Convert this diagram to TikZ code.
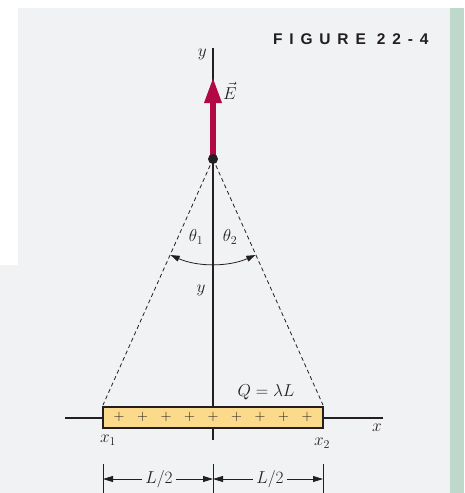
\documentclass[tikz,border=0pt]{standalone}
\usepackage{fontspec}
\usetikzlibrary{arrows.meta}
\newfontfamily\figfont[LetterSpace=44]{Liberation Sans}
\definecolor{panel}{RGB}{241,242,244}
\definecolor{strip}{RGB}{190,216,204}
\definecolor{efield}{RGB}{178,8,68}
\definecolor{rodfill}{RGB}{252,218,140}
\definecolor{ink}{RGB}{35,31,32}
\begin{document}
\begin{tikzpicture}[x=1pt,y=-1pt,
  lbl/.style={font=\fontsize{18}{20}\selectfont, text=ink, inner sep=0pt},
  axisline/.style={draw=ink, line width=1.2pt},
  yaxisline/.style={draw=ink, line width=2.5pt},
  dashline/.style={draw=ink, line width=0.8pt, dash pattern=on 4pt off 3pt},
  dimline/.style={draw=ink, line width=0.8pt},
  dimtip/.style={-{Triangle[length=10pt,width=6pt]}},
  plusmark/.style={font=\fontsize{15}{17}\selectfont, text=ink, inner sep=0pt}]
\useasboundingbox (0,0) rectangle (464,493);
% background
\fill[white] (0,0) rectangle (464,493);
\fill[panel] (18,8) -- (450,8) -- (450,493) -- (0,493) -- (0,265) -- (18,265) -- cycle;
\fill[strip] (450,8) rectangle (464,493);
% title
\node[anchor=west, inner sep=0pt, text=ink] (title) at (273,39) {\figfont\fontsize{15.5}{17}\selectfont\bfseries FIGURE 22-4};
% coordinates
\coordinate (ytop) at (213,48);
\coordinate (ybot) at (213,440);
\coordinate (P) at (213,159);
\coordinate (Etip) at (213,77);
\coordinate (x1c) at (103,405);
\coordinate (x2c) at (323,405);
\coordinate (xl) at (65,418);
\coordinate (xr) at (383,418);
% x axis
\draw[axisline] (xl) -- (xr);
% y axis
\draw[yaxisline] (ytop) -- (ybot);
% rod
\node[draw=ink, line width=1.2pt, fill=rodfill, minimum width=220pt, minimum height=21pt, inner sep=0pt] (rod) at (213,417.5) {};
\foreach \i/\xx in {1/119,2/142.5,3/166,4/189.5,5/213,6/236.5,7/260,8/283.5,9/307}
  \node[plusmark] (plus\i) at (\xx,417) {$+$};
% dashed lines
\draw[dashline] (P) -- (x1c);
\draw[dashline] (P) -- (x2c);
% E arrow
\draw[efield, line width=6pt, -{Triangle[length=26pt,width=16pt]}] (P) -- (Etip);
\fill[ink] (P) circle[radius=5pt];
\node[circle, inner sep=0pt, minimum size=10pt] (dot) at (P) {};
% angle arc
\draw[dimline, {Triangle[length=9pt,width=6pt]}-{Triangle[length=9pt,width=6pt]}] (P) ++(113.8:105) arc[start angle=113.8, end angle=66.2, radius=105];
% labels
\node[lbl, anchor=east] (ylab) at (207,54) {$y$};
\node[lbl, anchor=west] (Elab) at (223,91) {$\vec{E}$};
\node[lbl] (th1) at (196,237) {$\theta_1$};
\node[lbl] (th2) at (230,237) {$\theta_2$};
\node[lbl] (ymid) at (201,290) {$y$};
\node[lbl] (Qlab) at (266,392) {$Q=\lambda L$};
\node[lbl] (x1lab) at (108,440) {$x_1$};
\node[lbl] (x2lab) at (322,443) {$x_2$};
\node[lbl] (xlab) at (377,428) {$x$};
% dimensions
\coordinate (t1a) at (103,464); \coordinate (t1b) at (103,493);
\coordinate (t2a) at (213,464); \coordinate (t2b) at (213,493);
\coordinate (t3a) at (323,464); \coordinate (t3b) at (323,493);
\draw[dimline] (t1a) -- (t1b);
\draw[dimline] (t2a) -- (t2b);
\draw[dimline] (t3a) -- (t3b);
\node[lbl, fill=panel, inner xsep=3pt, inner ysep=2pt] (L1) at (159,479) {$L/2$};
\node[lbl, fill=panel, inner xsep=3pt, inner ysep=2pt] (L2) at (270,479) {$L/2$};
\coordinate (d1) at (103,479); \coordinate (d2) at (213,479); \coordinate (d3) at (323,479);
\draw[dimline, dimtip] (L1.west) -- (d1);
\draw[dimline, dimtip] (L1.east) -- (d2);
\draw[dimline, dimtip] (L2.west) -- (d2);
\draw[dimline, dimtip] (L2.east) -- (d3);
\end{tikzpicture}
\end{document}
